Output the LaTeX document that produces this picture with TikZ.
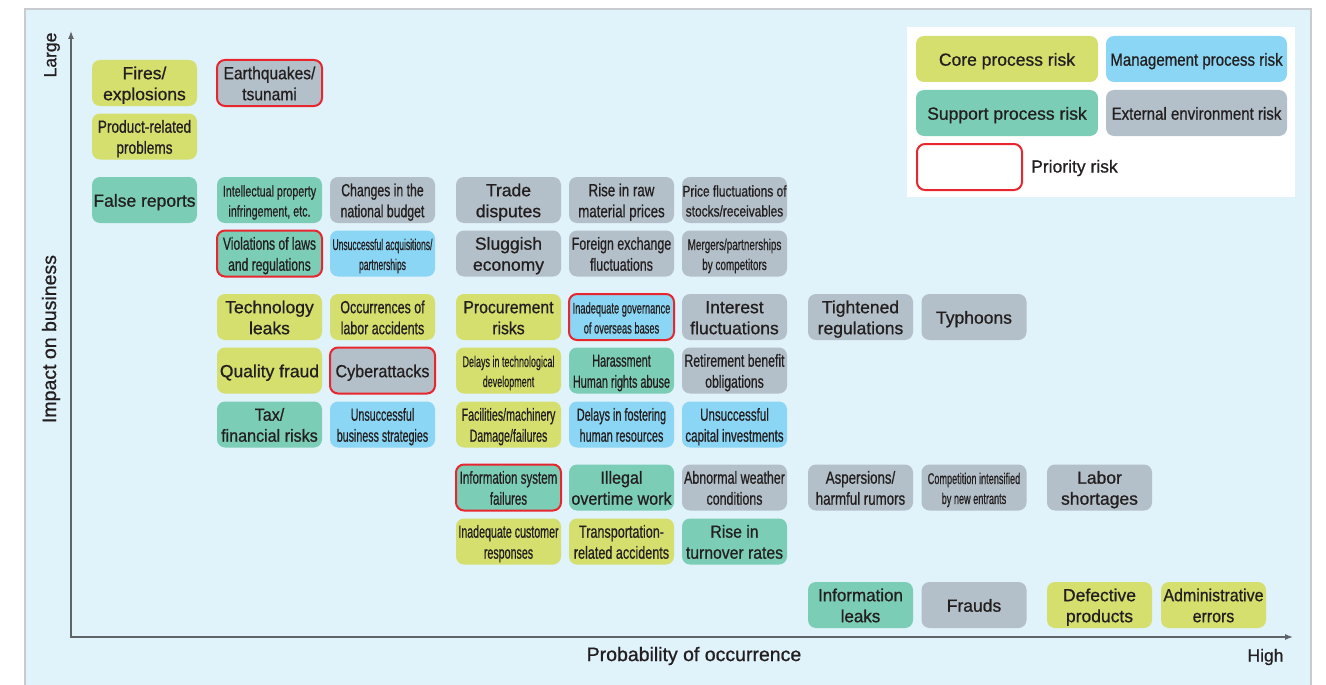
\documentclass[tikz,border=0pt]{standalone}
\usepackage{fontspec}
\setmainfont{Liberation Sans}[FakeBold=0.8]
\usetikzlibrary{arrows.meta}
\definecolor{corec}{RGB}{213,223,110}
\definecolor{mgmtc}{RGB}{140,214,245}
\definecolor{supc}{RGB}{124,205,181}
\definecolor{extc}{RGB}{180,192,201}
\definecolor{bgc}{RGB}{224,242,250}
\definecolor{prioc}{RGB}{232,38,46}
\definecolor{txtc}{RGB}{35,31,32}
\definecolor{axisc}{RGB}{95,100,105}
\definecolor{framec}{RGB}{200,204,208}
\newcommand{\lb}[2]{\raisebox{-2.5pt}[\height][\depth]{\scalebox{#1}[1]{\begin{tabular}{@{}c@{}}#2\end{tabular}}}}
\begin{document}
\begin{tikzpicture}[x=1pt,y=1pt,
  riskbox/.style={rounded corners=8pt, minimum width=105pt, minimum height=46pt, inner sep=0pt,
    text=txtc, font=\fontsize{17.5}{21}\selectfont},
  smalltxt/.style={font=\fontsize{15.5}{20}\selectfont},
  core/.style={riskbox, fill=corec},
  mgmt/.style={riskbox, fill=mgmtc},
  sup/.style={riskbox, fill=supc},
  ext/.style={riskbox, fill=extc},
  prio/.style={draw=prioc, line width=2pt},
  axislabel/.style={text=txtc, inner sep=0pt},
  axisline/.style={draw=axisc, line width=1.2pt}
]
\useasboundingbox (0,0) rectangle (1326,-685);
\fill[white] (0,0) rectangle (1326,-685);
\draw[framec, fill=bgc, line width=1.2pt] (25,-9) rectangle (1311,-700);

% axes
\coordinate (ytop) at (71,-31);
\coordinate (origin) at (71,-637);
\coordinate (xend) at (1293,-637);
\draw[axisline, {Latex[length=8pt,width=6pt]}-{Latex[length=8pt,width=6pt]}] (ytop) -- (origin) -- (xend);
\node[axislabel, rotate=90, font=\fontsize{17.5}{20}\selectfont] (large) at (52,-55) {Large};
\node[axislabel, rotate=90, font=\fontsize{19.5}{22}\selectfont] (impact) at (51,-339) {Impact on business};
\node[axislabel, font=\fontsize{19.5}{22}\selectfont] (prob) at (694,-656) {Probability of occurrence};
\node[axislabel, font=\fontsize{17.5}{20}\selectfont] (high) at (1265.5,-657) {High};

% legend
\fill[white] (907,-27) rectangle (1295,-197);
\node[core, minimum width=182pt] (legcore) at (1007,-59) {\lb{1}{Core process risk}};
\node[mgmt, minimum width=181pt] (legmgmt) at (1196.5,-59) {\lb{0.86}{Management process risk}};
\node[sup, minimum width=182pt] (legsup) at (1007,-113) {\lb{1}{Support process risk}};
\node[ext, minimum width=181pt] (legext) at (1196.5,-113) {\lb{0.86}{External environment risk}};
\node[riskbox, prio, fill=white, minimum width=105pt, minimum height=46pt] (legprio) at (969.5,-167) {};
\node[axislabel, anchor=west, font=\fontsize{17.5}{21}\selectfont] (legpriotext) at (1031,-168) {Priority risk};

% risks
\node[core] (fires) at (144.5,-83) {\lb{1}{Fires/\\explosions}};
\node[ext, prio] (quake) at (269.5,-83) {\lb{0.89}{Earthquakes/\\tsunami}};
\node[core] (product) at (144.5,-136.5) {\lb{0.78}{Product-related\\problems}};

\node[sup] (falserep) at (144.5,-200) {\lb{1}{False reports}};
\node[sup, smalltxt] (ip) at (269.5,-200) {\lb{0.69}{Intellectual property\\infringement, etc.}};
\node[ext] (budget) at (382.5,-200) {\lb{0.70}{Changes in the\\national budget}};
\node[ext] (trade) at (508.5,-200) {\lb{1}{Trade\\disputes}};
\node[ext] (rawmat) at (621.5,-200) {\lb{0.76}{Rise in raw\\material prices}};
\node[ext, smalltxt] (pricefl) at (734.5,-200) {\lb{0.77}{Price fluctuations of\\stocks/receivables}};

\node[sup, prio] (violations) at (269.5,-253.5) {\lb{0.69}{Violations of laws\\and regulations}};
\node[mgmt, smalltxt] (unsacq) at (382.5,-253.5) {\lb{0.55}{Unsuccessful acquisitions/\\partnerships}};
\node[ext] (sluggish) at (508.5,-253.5) {\lb{1}{Sluggish\\economy}};
\node[ext] (forex) at (621.5,-253.5) {\lb{0.71}{Foreign exchange\\fluctuations}};
\node[ext, smalltxt] (mergers) at (734.5,-253.5) {\lb{0.64}{Mergers/partnerships\\by competitors}};

\node[core] (techleak) at (269.5,-317) {\lb{1}{Technology\\leaks}};
\node[core] (laboracc) at (382.5,-317) {\lb{0.71}{Occurrences of\\labor accidents}};
\node[core] (procure) at (508.5,-317) {\lb{0.9}{Procurement\\risks}};
\node[mgmt, prio, smalltxt] (governance) at (621.5,-317) {\lb{0.60}{Inadequate governance\\of overseas bases}};
\node[ext] (interest) at (734.5,-317) {\lb{1}{Interest\\fluctuations}};
\node[ext] (tightened) at (860.5,-317) {\lb{1}{Tightened\\regulations}};
\node[ext] (typhoons) at (974,-317) {\lb{1}{Typhoons}};

\node[core] (qualfraud) at (269.5,-370.5) {\lb{1}{Quality fraud}};
\node[ext, prio] (cyber) at (382.5,-370.5) {\lb{0.92}{Cyberattacks}};
\node[core, smalltxt] (techdelay) at (508.5,-370.5) {\lb{0.58}{Delays in technological\\development}};
\node[sup] (harass) at (621.5,-370.5) {\lb{0.62}{Harassment\\Human rights abuse}};
\node[ext] (retire) at (734.5,-370.5) {\lb{0.70}{Retirement benefit\\obligations}};

\node[sup] (tax) at (269.5,-424.5) {\lb{0.92}{Tax/\\financial risks}};
\node[mgmt] (unsbiz) at (382.5,-424.5) {\lb{0.61}{Unsuccessful\\business strategies}};
\node[core] (facilities) at (508.5,-424.5) {\lb{0.61}{Facilities/machinery\\Damage/failures}};
\node[mgmt] (fostering) at (621.5,-424.5) {\lb{0.62}{Delays in fostering\\human resources}};
\node[mgmt] (capinv) at (734.5,-424.5) {\lb{0.66}{Unsuccessful\\capital investments}};

\node[sup, prio] (infosys) at (508.5,-487.5) {\lb{0.66}{Information system\\failures}};
\node[sup] (illegal) at (621.5,-487.5) {\lb{0.92}{Illegal\\overtime work}};
\node[ext] (weather) at (734.5,-487.5) {\lb{0.71}{Abnormal weather\\conditions}};
\node[ext] (aspersions) at (860.5,-487.5) {\lb{0.76}{Aspersions/\\harmful rumors}};
\node[ext, smalltxt] (competition) at (974,-487.5) {\lb{0.59}{Competition intensified\\by new entrants}};
\node[ext] (laborshort) at (1099.5,-487.5) {\lb{1}{Labor\\shortages}};

\node[core] (custresp) at (508.5,-541.5) {\lb{0.61}{Inadequate customer\\responses}};
\node[core] (transport) at (621.5,-541.5) {\lb{0.72}{Transportation-\\related accidents}};
\node[sup] (turnover) at (734.5,-541.5) {\lb{0.9}{Rise in\\turnover rates}};

\node[sup] (infoleak) at (860.5,-605) {\lb{0.97}{Information\\leaks}};
\node[ext] (frauds) at (974,-605) {\lb{1}{Frauds}};
\node[core] (defective) at (1099.5,-605) {\lb{1}{Defective\\products}};
\node[core] (adminerr) at (1213.5,-605) {\lb{0.91}{Administrative\\errors}};
\end{tikzpicture}
\end{document}
